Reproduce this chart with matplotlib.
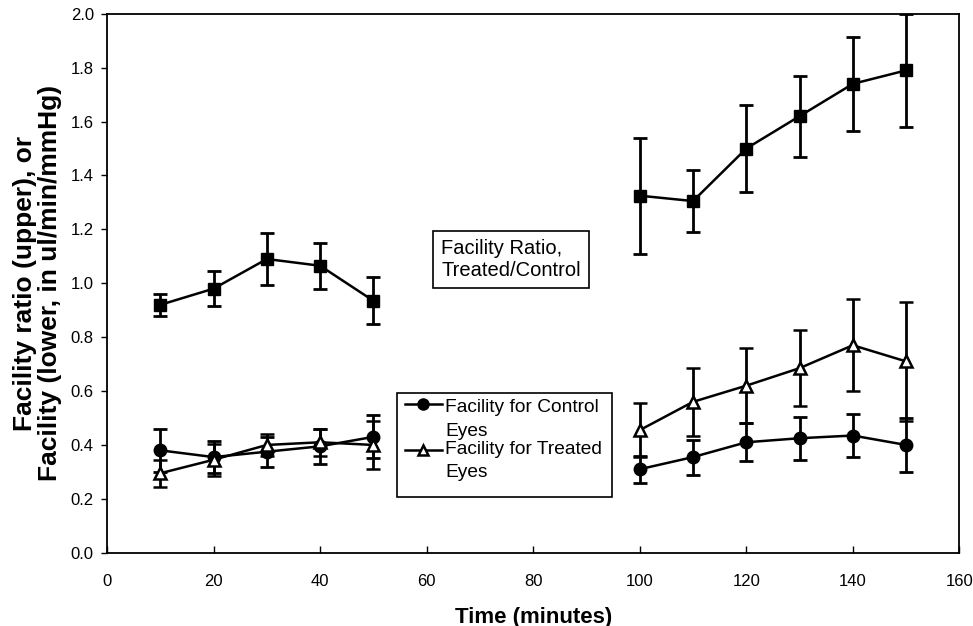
import matplotlib

matplotlib.use("Agg")
import matplotlib.pyplot as plt
from matplotlib.patches import Rectangle

# time points (minutes), two separate runs
time_a = [10, 20, 30, 40, 50]
time_b = [100, 110, 120, 130, 140, 150]

# facility ratio, treated/control
ratio_a = [0.92, 0.98, 1.09, 1.065, 0.935]
ratio_a_err = [0.04, 0.065, 0.095, 0.085, 0.087]
ratio_b = [1.325, 1.305, 1.50, 1.62, 1.74, 1.79]
ratio_b_err = [0.215, 0.115, 0.16, 0.15, 0.175, 0.21]

# facility for control eyes
control_a = [0.38, 0.355, 0.375, 0.395, 0.43]
control_a_err = [0.08, 0.06, 0.055, 0.065, 0.08]
control_b = [0.31, 0.355, 0.41, 0.425, 0.435, 0.40]
control_b_err = [0.05, 0.065, 0.07, 0.08, 0.08, 0.10]

# facility for treated eyes
treated_a = [0.295, 0.345, 0.40, 0.41, 0.40]
treated_a_err = [0.05, 0.06, 0.04, 0.05, 0.09]
treated_b = [0.455, 0.56, 0.62, 0.685, 0.77, 0.71]
treated_b_err = [0.10, 0.125, 0.14, 0.14, 0.17, 0.22]

plt.rcParams["font.family"] = ["Liberation Sans", "DejaVu Sans"]

fig = plt.figure(figsize=(9.73, 6.26), dpi=100)
ax = fig.add_axes([0.110, 0.117, 0.876, 0.861])

err_style = dict(color="black", lw=1.8, elinewidth=2, capsize=5, capthick=2)
ctrl_style = dict(marker="o", ms=9, mfc="black", mec="black")
trt_style = dict(marker="^", ms=8, mfc="white", mec="black", mew=1.8)

for t, y, e in [(time_a, ratio_a, ratio_a_err), (time_b, ratio_b, ratio_b_err)]:
    ax.errorbar(t, y, yerr=e, marker="s", ms=9, mfc="black", mec="black", **err_style)
for t, y, e in [(time_a, control_a, control_a_err), (time_b, control_b, control_b_err)]:
    ax.errorbar(t, y, yerr=e, **ctrl_style, **err_style)
for t, y, e in [(time_a, treated_a, treated_a_err), (time_b, treated_b, treated_b_err)]:
    ax.errorbar(t, y, yerr=e, **trt_style, **err_style)

ax.set_xlim(0, 160)
ax.set_ylim(0, 2.0)
ax.set_xticks(range(0, 161, 20))
ax.set_yticks([i / 10 for i in range(0, 21, 2)])
ax.set_yticklabels([f"{i / 10:.1f}" for i in range(0, 21, 2)])
ax.tick_params(axis="x", direction="in", length=5, width=1, labelsize=12, pad=15)
ax.tick_params(axis="y", direction="out", length=4, width=1, labelsize=12, pad=5.5)
for s in ax.spines.values():
    s.set_linewidth(1.3)

ax.set_xlabel("Time (minutes)", fontsize=16, fontweight="bold", labelpad=13)
ax.set_ylabel("Facility ratio (upper), or\nFacility (lower, in ul/min/mmHg)",
              fontsize=19, fontweight="bold", labelpad=6, linespacing=1.05)

ax.text(0.474, 0.544, "Facility Ratio,\nTreated/Control", transform=ax.transAxes,
        ha="center", va="center", fontsize=14.5, multialignment="left",
        bbox=dict(boxstyle="square,pad=0.4", fc="white", ec="black", lw=1.2))

# legend box drawn by hand so the handles sit on the first text line
ax.add_patch(Rectangle((0.340, 0.104), 0.253, 0.193, transform=ax.transAxes,
                       fc="white", ec="black", lw=1.2, zorder=5))
leg_lines = ["Facility for Control", "Eyes", "Facility for Treated", "Eyes"]
leg_y = [0.269, 0.2245, 0.191, 0.148]
for txt, yy in zip(leg_lines, leg_y):
    ax.text(0.397, yy, txt, transform=ax.transAxes, ha="left", va="center",
            fontsize=13.8, zorder=6)
for yy, style in [(0.276, ctrl_style), (0.191, trt_style)]:
    ax.plot([0.350, 0.393], [yy, yy], transform=ax.transAxes, color="black",
            lw=1.8, zorder=6)
    ax.plot([0.371], [yy], transform=ax.transAxes, ls="none", zorder=7,
            **{**style, "ms": style["ms"] - 1})

fig.savefig("out.png", dpi=100)
plt.close(fig)
